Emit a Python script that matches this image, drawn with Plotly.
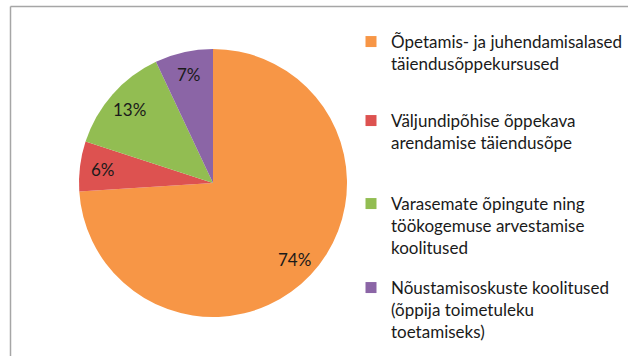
import math
import plotly.graph_objects as go

# Share of continuing-education courses by topic
labels = [
    "Õpetamis- ja juhendamisalased<br>täiendusõppekursused",
    "Väljundipõhise õppekava<br>arendamise täiendusõpe",
    "Varasemate õpingute ning<br>töökogemuse arvestamise<br>koolitused",
    "Nõustamisoskuste koolitused<br>(õppija toimetuleku<br>toetamiseks)",
]
shares = [74, 6, 13, 7]
colors = ["#F79646", "#DD5250", "#92BD52", "#8B65A6"]

W, H = 628, 356
FONT = "Lato"
TXT = "#1a1a1a"

fig = go.Figure()

# pie centred at (213, 183) px with radius 134 px
cx, cy, r = 213, 183, 134
fig.add_trace(go.Pie(
    labels=labels,
    values=shares,
    sort=False,
    direction="clockwise",
    rotation=0,
    marker=dict(colors=colors, line=dict(width=0)),
    textinfo="none",
    showlegend=False,
    hoverinfo="label+percent",
    domain=dict(x=[(cx - r) / W, (cx + r) / W],
                y=[(H - cy - r) / H, (H - cy + r) / H]),
))

# percentage labels placed on each slice's mid-angle, outer part of the slice
total = sum(shares)
annotations = []
start = 0.0
for v in shares:
    mid = (start + v / 2) / total * 2 * math.pi  # clockwise from 12 o'clock
    start += v
    px = cx + 0.83 * r * math.sin(mid)
    py = cy - 0.83 * r * math.cos(mid)
    annotations.append(dict(
        x=px / W, y=1 - py / H, xref="paper", yref="paper",
        text=f"{round(v / total * 100)}%", showarrow=False,
        font=dict(family=FONT, size=17, color=TXT),
        xanchor="center", yanchor="middle",
    ))

# one legend per entry so every entry gets the same slot height
legend_tops = [58, 137, 220, 304]
for i, (lab, col) in enumerate(zip(labels, colors)):
    key = "legend" if i == 0 else f"legend{i + 1}"
    fig.add_trace(go.Scatter(
        x=[None], y=[None], mode="markers",
        marker=dict(symbol="square", size=11, color=col),
        name=lab, legend=key, hoverinfo="skip",
    ))
    fig.update_layout({key: dict(
        x=351 / W, y=1 - (legend_tops[i] - 34) / H,
        xanchor="left", yanchor="top",
        valign="top", bgcolor="rgba(0,0,0,0)",
        itemwidth=30,
        font=dict(family=FONT, size=17, color=TXT),
    )})

# chart-area frame: only its top and left edges fall inside the page
frame = dict(color="#A6A6A6", width=1.5)
shapes = [
    dict(type="line", xref="paper", yref="paper",
         x0=10.5 / W, x1=1, y0=1 - 6.5 / H, y1=1 - 6.5 / H, line=frame),
    dict(type="line", xref="paper", yref="paper",
         x0=10.5 / W, x1=10.5 / W, y0=0, y1=1 - 6.5 / H, line=frame),
]

fig.update_layout(
    width=W, height=H,
    margin=dict(l=0, r=0, t=0, b=0, autoexpand=False),
    paper_bgcolor="white",
    plot_bgcolor="white",
    xaxis=dict(visible=False),
    yaxis=dict(visible=False),
    showlegend=True,
    annotations=annotations,
    shapes=shapes,
)

fig.write_html("out.html")
